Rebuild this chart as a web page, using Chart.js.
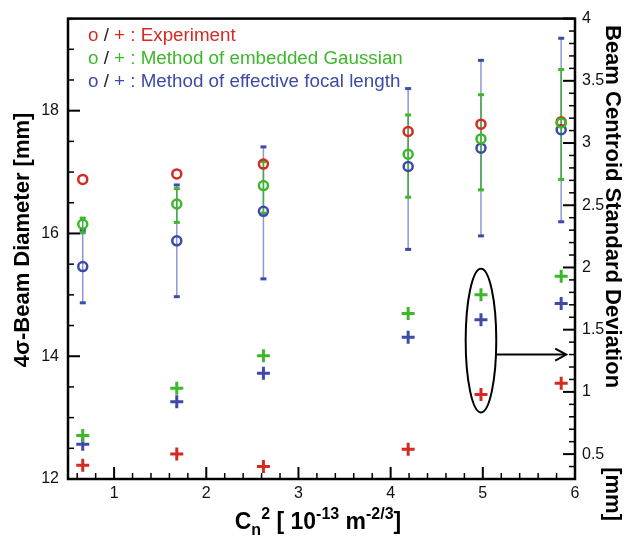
<!DOCTYPE html>
<html>
<head>
<meta charset="utf-8">
<script src="https://cdn.jsdelivr.net/npm/chart.js@4.4.1/dist/chart.umd.min.js"></script>
<style>
html,body{margin:0;padding:0;background:#fff;}
#wrap{width:633px;height:537px;}
</style>
</head>
<body>
<div id="wrap"><canvas id="c" width="633" height="537"></canvas></div>
<script>
// ---- data ----
const cn2 = [0.66, 1.68, 2.62, 4.19, 4.98, 5.85];
const expDiameter   = [16.88, 16.97, 17.13, 17.66, 17.78, 17.82];
const gaussDiameter = [16.15, 16.48, 16.78, 17.29, 17.54, 17.80];
const gaussLow      = [16.01, 16.18, 16.33, 16.59, 16.71, 16.88];
const gaussHigh     = [16.25, 16.73, 17.17, 17.93, 18.26, 18.67];
const focalDiameter = [15.46, 15.88, 16.36, 17.09, 17.39, 17.69];
const focalLow      = [14.87, 14.97, 15.26, 15.74, 15.96, 16.19];
const focalHigh     = [16.05, 16.79, 17.41, 18.36, 18.82, 19.18];
const expCentroid   = [0.41, 0.50, 0.40, 0.54, 0.98, 1.07];
const gaussCentroid = [0.65, 1.03, 1.29, 1.63, 1.78, 1.93];
const focalCentroid = [0.58, 0.92, 1.15, 1.44, 1.58, 1.71];

const xTicks = [1, 2, 3, 4, 5, 6];
const leftTicks = [12, 14, 16, 18];
const rightTicks = [0.5, 1, 1.5, 2, 2.5, 3, 3.5, 4];
const legendLabels = ['Experiment', 'Method of embedded Gaussian', 'Method of effective focal length'];

// highlighted group (data coordinates: x on bottom axis, y on right axis)
const ellipseX = 4.98, ellipseHalfW = 0.166, ellipseTop = 1.99, ellipseBottom = 0.835;
const arrowY = 1.30, arrowEndX = 5.905;

const RED = '#d42a22', GREEN = '#3cb82a', BLUE = '#3d4aa8';
const FONT = '"Liberation Sans", Arial, sans-serif';

const pts = (ys) => cn2.map((x, i) => ({x: x, y: ys[i]}));

function circleDs(label, ys, color, order) {
  return {label, data: pts(ys), yAxisID: 'y', pointStyle: 'circle', pointRadius: 4.5,
    borderColor: color, backgroundColor: 'rgba(0,0,0,0)', pointBorderWidth: 2.5, showLine: false, order};
}
function crossDs(label, ys, color, order) {
  return {label, data: pts(ys), yAxisID: 'y2', pointStyle: 'cross', pointRadius: 6.5,
    borderColor: color, backgroundColor: color, pointBorderWidth: 3, showLine: false, order};
}

const framePlugin = {
  id: 'frame',
  beforeDatasetsDraw(chart) {
    const ctx = chart.ctx, xs = chart.scales.x, ys = chart.scales.y;
    function bars(lo, hi, lineCol, capCol) {
      for (let i = 0; i < cn2.length; i++) {
        const px = xs.getPixelForValue(cn2[i]);
        const p1 = ys.getPixelForValue(lo[i]), p2 = ys.getPixelForValue(hi[i]);
        ctx.save();
        ctx.strokeStyle = lineCol; ctx.lineWidth = 1.5;
        ctx.beginPath(); ctx.moveTo(px, p1); ctx.lineTo(px, p2); ctx.stroke();
        ctx.fillStyle = capCol;
        ctx.fillRect(px - 3, p1 - 1.5, 6, 3);
        ctx.fillRect(px - 3, p2 - 1.5, 6, 3);
        ctx.restore();
      }
    }
    bars(focalLow, focalHigh, '#8f96d2', BLUE);
    bars(gaussLow, gaussHigh, '#4aa846', GREEN);
  },
  afterDraw(chart) {
    const ctx = chart.ctx, a = chart.chartArea;
    const xs = chart.scales.x, ys = chart.scales.y, y2 = chart.scales.y2;
    ctx.save();
    ctx.strokeStyle = '#000';
    function tickSet(scale, min, max, step, majors, drawFn) {
      const n = Math.round((max - min) / step);
      for (let k = 0; k <= n; k++) {
        const v = +(min + k * step).toFixed(4);
        const isMajor = majors.some(m => Math.abs(m - v) < 1e-6);
        drawFn(scale.getPixelForValue(v), isMajor);
      }
    }
    ctx.lineCap = 'butt';
    tickSet(ys, 12, 19.5, 0.5, leftTicks, (p, M) => {
      ctx.lineWidth = M ? 2 : 1.5; ctx.beginPath();
      ctx.moveTo(a.left, p); ctx.lineTo(a.left + (M ? 12 : 6), p); ctx.stroke();
    });
    tickSet(y2, 0.3, 4, 0.1, rightTicks, (p, M) => {
      ctx.lineWidth = M ? 2 : 1.5; ctx.beginPath();
      ctx.moveTo(a.right, p); ctx.lineTo(a.right - (M ? 12 : 6), p); ctx.stroke();
    });
    tickSet(xs, 0.6, 6, 0.2, xTicks, (p, M) => {
      ctx.lineWidth = M ? 2 : 1.5; ctx.beginPath();
      ctx.moveTo(p, a.bottom); ctx.lineTo(p, a.bottom - (M ? 12 : 6)); ctx.stroke();
    });
    ctx.lineWidth = 2.5;
    ctx.strokeRect(a.left, a.top, a.right - a.left, a.bottom - a.top);

    // ellipse + arrow
    const cx = xs.getPixelForValue(ellipseX);
    const rx = xs.getPixelForValue(ellipseX + ellipseHalfW) - cx;
    const t = y2.getPixelForValue(ellipseTop), b = y2.getPixelForValue(ellipseBottom);
    ctx.lineWidth = 2;
    ctx.beginPath(); ctx.ellipse(cx, (t + b) / 2, rx, (b - t) / 2, 0, 0, Math.PI * 2); ctx.stroke();
    const ay = y2.getPixelForValue(arrowY), ax2 = xs.getPixelForValue(arrowEndX);
    ctx.beginPath(); ctx.moveTo(cx + rx, ay); ctx.lineTo(ax2, ay); ctx.stroke();
    ctx.beginPath(); ctx.moveTo(ax2 - 11, ay - 6); ctx.lineTo(ax2, ay); ctx.lineTo(ax2 - 11, ay + 6); ctx.stroke();

    // legend
    const cols = [RED, GREEN, BLUE];
    ctx.font = '18.8px ' + FONT; ctx.textBaseline = 'middle'; ctx.textAlign = 'left';
    legendLabels.forEach((lab, i) => {
      let x = a.left + 20; const y = a.top + 17 + i * 23;
      const parts = [['o', cols[i]], [' / ', '#222'], ['+', cols[i]], [' : ' + lab, cols[i]]];
      parts.forEach(([s, c]) => { ctx.fillStyle = c; ctx.fillText(s, x, y); x += ctx.measureText(s).width; });
    });

    // axis titles
    ctx.fillStyle = '#000';
    ctx.font = 'bold 22px ' + FONT;
    ctx.textAlign = 'center';
    ctx.save(); ctx.translate(23, 240); ctx.rotate(-Math.PI / 2);
    ctx.fillText('4σ-Beam Diameter [mm]', 0, 0); ctx.restore();
    ctx.save(); ctx.translate(612, 0); ctx.rotate(Math.PI / 2);
    ctx.textAlign = 'left'; ctx.fillText('Beam Centroid Standard Deviation', 25, 0);
    ctx.textAlign = 'right'; ctx.fillText('[mm]', 521, 0);
    ctx.restore();

    // x title with sub/superscripts
    const big = 'bold 23px ' + FONT, small = 'bold 16px ' + FONT;
    const pieces = [['C', big, 0], ['n', small, 6], ['2', small, -10], [' [ 10', big, 0], ['-13', small, -10],
                    [' m', big, 0], ['-2/3', small, -10], [']', big, 0]];
    let total = 0;
    pieces.forEach(p => { ctx.font = p[1]; total += ctx.measureText(p[0]).width; });
    let x = 318 - total / 2; const by = 529;
    ctx.textAlign = 'left'; ctx.textBaseline = 'alphabetic';
    pieces.forEach(p => { ctx.font = p[1]; ctx.fillText(p[0], x, by + p[2]); x += ctx.measureText(p[0]).width; });
    ctx.restore();
  }
};

new Chart(document.getElementById('c'), {
  type: 'scatter',
  data: {
    datasets: [
      circleDs('Gaussian diameter', gaussDiameter, GREEN, 0),
      circleDs('Experiment diameter', expDiameter, RED, 1),
      circleDs('Focal diameter', focalDiameter, BLUE, 2),
      crossDs('Experiment centroid', expCentroid, RED, 3),
      crossDs('Gaussian centroid', gaussCentroid, GREEN, 4),
      crossDs('Focal centroid', focalCentroid, BLUE, 5)
    ]
  },
  options: {
    responsive: false, animation: false, devicePixelRatio: 1,
    layout: {padding: {top: 15, left: 0, right: 0, bottom: 0}},
    plugins: {legend: {display: false}, tooltip: {enabled: false}},
    scales: {
      x: {type: 'linear', min: 0.5, max: 6,
        afterBuildTicks: s => { s.ticks = xTicks.map(v => ({value: v})); },
        afterFit: s => { s.height = 58; },
        grid: {display: false, drawTicks: false}, border: {display: false},
        ticks: {padding: 5, color: '#111', font: {family: FONT, size: 16}, maxRotation: 0,
          callback: v => String(v)}},
      y: {type: 'linear', position: 'left', min: 12, max: 19.5,
        afterBuildTicks: s => { s.ticks = leftTicks.map(v => ({value: v})); },
        afterFit: s => { s.width = 68; },
        grid: {display: false, drawTicks: false}, border: {display: false},
        ticks: {padding: 9, color: '#111', font: {family: FONT, size: 16}, callback: v => String(v)}},
      y2: {type: 'linear', position: 'right', min: 0.3, max: 4,
        afterBuildTicks: s => { s.ticks = rightTicks.map(v => ({value: v})); },
        afterFit: s => { s.width = 58; },
        grid: {display: false, drawTicks: false}, border: {display: false},
        ticks: {padding: 7, color: '#111', font: {family: FONT, size: 16}, callback: v => String(v)}}
    }
  },
  plugins: [framePlugin]
});
</script>
</body>
</html>
